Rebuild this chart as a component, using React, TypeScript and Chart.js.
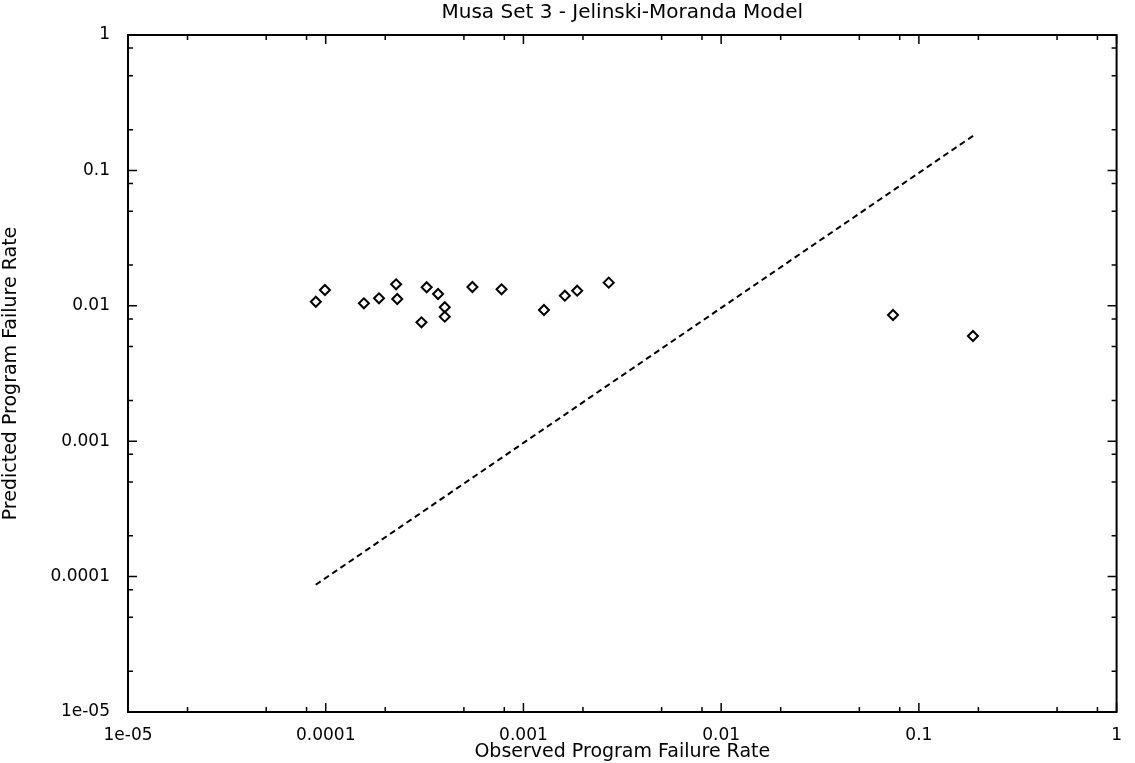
import React, { useEffect, useRef } from 'react';
import { Chart, registerables } from 'chart.js';

Chart.register(...registerables);

// Observed vs predicted program failure rates (Musa Set 3, Jelinski-Moranda)
const observedRate = [
  8.91e-5, 9.91e-5, 1.56e-4, 1.86e-4, 2.27e-4, 2.3e-4, 3.05e-4, 3.24e-4, 3.7e-4, 4.0e-4,
  4.0e-4, 5.52e-4, 7.75e-4, 1.27e-3, 1.62e-3, 1.87e-3, 2.7e-3, 0.074, 0.1877,
];
const predictedRate = [
  0.01072, 0.01309, 0.01043, 0.01136, 0.01441, 0.01122, 0.00755, 0.0137, 0.01222, 0.00975,
  0.00831, 0.01377, 0.01324, 0.00931, 0.01188, 0.01293, 0.01482, 0.00855, 0.00598,
];
// dashed reference line
const refLineX = [8.9e-5, 0.188];
const refLineY = [8.7e-5, 0.18];

const decadeTicks = [1e-5, 1e-4, 1e-3, 1e-2, 1e-1, 1];
const tickLabels = ['1e-05', '0.0001', '0.001', '0.01', '0.1', '1'];
const minorMultipliers = [2, 5, 8];

const chartTitle = 'Musa Set 3 - Jelinski-Moranda Model';
const xTitle = 'Observed Program Failure Rate';
const yTitle = 'Predicted Program Failure Rate';

const FONT = "'DejaVu Sans', 'Liberation Sans', sans-serif";

const frameTicks = {
  id: 'frameTicks',
  afterDraw(chart: any) {
    const { ctx, chartArea, scales } = chart;
    const { left, right, top, bottom } = chartArea;
    const x = scales.x;
    const y = scales.y;
    ctx.save();
    ctx.strokeStyle = '#000';
    ctx.lineWidth = 1.5;
    const values: { v: number; major: boolean }[] = [];
    decadeTicks.forEach((d, i) => {
      values.push({ v: d, major: true });
      if (i < decadeTicks.length - 1) {
        minorMultipliers.forEach((m) => values.push({ v: d * m, major: false }));
      }
    });
    ctx.beginPath();
    values.forEach(({ v, major }) => {
      const len = major ? 9 : 5;
      const px = x.getPixelForValue(v);
      ctx.moveTo(px, bottom);
      ctx.lineTo(px, bottom - len);
      ctx.moveTo(px, top);
      ctx.lineTo(px, top + len);
      const py = y.getPixelForValue(v);
      ctx.moveTo(left, py);
      ctx.lineTo(left + len, py);
      ctx.moveTo(right, py);
      ctx.lineTo(right - len, py);
    });
    ctx.stroke();
    ctx.lineWidth = 2;
    ctx.strokeRect(left, top, right - left, bottom - top);
    ctx.restore();
  },
};

export default function App() {
  const canvasRef = useRef<HTMLCanvasElement | null>(null);

  useEffect(() => {
    document.body.style.margin = '0';
    const canvas = canvasRef.current;
    if (!canvas) return;
    const chart = new Chart(canvas, {
      type: 'scatter',
      data: {
        datasets: [
          {
            label: 'Predictions',
            data: observedRate.map((v, i) => ({ x: v, y: predictedRate[i] })),
            pointStyle: 'rectRot',
            pointRadius: 5,
            borderColor: '#000',
            backgroundColor: '#fff',
            pointBorderWidth: 2,
            showLine: false,
          },
          {
            label: 'Reference',
            data: refLineX.map((v, i) => ({ x: v, y: refLineY[i] })),
            showLine: true,
            borderColor: '#000',
            borderWidth: 2,
            borderDash: [6, 4],
            pointRadius: 0,
            fill: false,
          },
        ],
      },
      options: {
        animation: false,
        responsive: true,
        maintainAspectRatio: false,
        layout: { padding: { left: 0, right: 18, top: 0, bottom: 0 } },
        plugins: {
          legend: { display: false },
          tooltip: { enabled: false },
          title: {
            display: true,
            fullSize: false,
            text: chartTitle,
            color: '#000',
            font: { family: FONT, size: 20, weight: 'normal' },
            padding: { top: 1, bottom: 10 },
          },
        },
        scales: {
          x: {
            type: 'logarithmic',
            min: 1e-5,
            max: 1,
            grid: { display: false, drawTicks: false },
            border: { display: false },
            afterBuildTicks: (scale: any) => {
              scale.ticks = decadeTicks.map((v) => ({ value: v }));
            },
            afterFit: (scale: any) => {
              scale.height = 51;
            },
            ticks: {
              color: '#000',
              padding: 13,
              maxRotation: 0,
              autoSkip: false,
              font: { family: FONT, size: 17 },
              callback: (_v: any, i: number) => tickLabels[i],
            },
            title: {
              display: true,
              text: xTitle,
              color: '#000',
              font: { family: FONT, size: 19 },
              padding: { top: 0, bottom: 0 },
            },
          },
          y: {
            type: 'logarithmic',
            min: 1e-5,
            max: 1,
            grid: { display: false, drawTicks: false },
            border: { display: false },
            afterBuildTicks: (scale: any) => {
              scale.ticks = decadeTicks.map((v) => ({ value: v }));
            },
            afterFit: (scale: any) => {
              scale.width = 128;
            },
            ticks: {
              color: '#000',
              padding: 18,
              autoSkip: false,
              font: { family: FONT, size: 17 },
              callback: (_v: any, i: number) => tickLabels[i],
            },
            title: {
              display: true,
              text: yTitle,
              color: '#000',
              font: { family: FONT, size: 19 },
              padding: { top: 0, bottom: 0 },
            },
          },
        },
      },
      plugins: [frameTicks],
    });
    return () => chart.destroy();
  }, []);

  return (
    <div style={{ width: 1135, height: 763, position: 'relative', background: '#fff' }}>
      <canvas ref={canvasRef} />
    </div>
  );
}
